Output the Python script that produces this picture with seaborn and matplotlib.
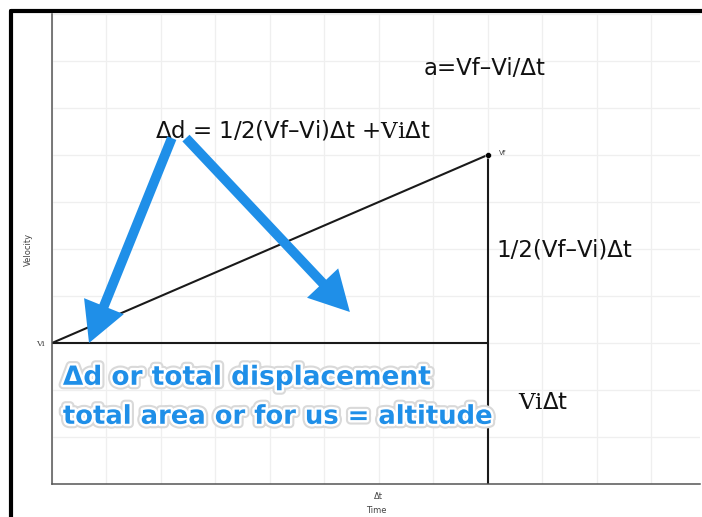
import numpy as np
import pandas as pd
import matplotlib
matplotlib.use("Agg")
import matplotlib.pyplot as plt
import matplotlib.patheffects as pe
from matplotlib.lines import Line2D
import seaborn as sns

# velocity-time graph for constant acceleration
time_ticks = list(range(0, 12))
vel_ticks = list(range(0, 11))
t_start, t_end = 0, 8
v_i, v_f = 3, 7

slope_t = [t_start, t_end]
slope_v = [v_i, v_f]
base_t = [t_start, t_end]
base_v = [v_i, v_i]
side_t = [t_end, t_end]
side_v = [0, v_f]

xtick_labels = {6: "\u0394t"}
ytick_labels = {3: "Vi"}

sns.set_theme(style="whitegrid")
plt.rcParams["font.family"] = ["DejaVu Sans"]
plt.rcParams["mathtext.fontset"] = "custom"
plt.rcParams["mathtext.rm"] = "DejaVu Serif"

fig = plt.figure(figsize=(7.02, 5.17), dpi=100)
ax = fig.add_axes([52 / 702, 33 / 517, 648 / 702, 470 / 517])

lines = pd.DataFrame({
    "t": slope_t + base_t + side_t,
    "v": slope_v + base_v + side_v,
    "seg": ["slope"] * 2 + ["base"] * 2 + ["side"] * 2,
})
sns.lineplot(data=lines, x="t", y="v", units="seg", estimator=None, sort=False,
             color="#1a1a1a", linewidth=1.5, ax=ax)
sns.scatterplot(x=[t_end], y=[v_f], color="black", s=18, ax=ax, zorder=5)

ax.set_xlim(0, 11.9)
ax.set_ylim(0, 10)
ax.set_xticks(time_ticks)
ax.set_xticklabels([xtick_labels.get(t, "") for t in time_ticks], fontsize=6, color="#444")
ax.set_yticks(vel_ticks)
ax.set_yticklabels([ytick_labels.get(v, "") for v in vel_ticks], fontsize=6,
                   color="#444", family="DejaVu Serif")
ax.tick_params(axis="both", direction="inout", length=5, width=1, color="#444", pad=3)
ax.grid(True, color="#efefef", linewidth=0.9)
ax.set_xlabel("Time", fontsize=6, color="#444", labelpad=4)
ax.set_ylabel("Velocity", fontsize=6, color="#444", labelpad=2)
for side in ["top", "right"]:
    ax.spines[side].set_visible(False)
for side in ["left", "bottom"]:
    ax.spines[side].set_color("#555")
    ax.spines[side].set_linewidth(1.1)

ax.text(t_end + 0.2, v_f + 0.05, "Vf", fontsize=5, color="#444", va="center")

# formulas
fs = 16.5
ax.text(7.94, 8.85, "a=Vf\u2013Vi/\u0394t", fontsize=fs, ha="center", va="center", color="#111")
ax.text(1.9, 7.53, "\u0394d = 1/2(Vf\u2013Vi)\u0394t +$\\mathrm{Vi}$\u0394t", fontsize=fs,
        ha="left", va="center", color="#111")
ax.text(8.17, 4.98, "1/2(Vf\u2013Vi)\u0394t", fontsize=fs, ha="left", va="center", color="#111")
ax.text(8.55, 1.74, "$\\mathrm{Vi}$\u0394t", fontsize=fs, ha="left", va="center", color="#111")

# blue annotation with arrows
blue = "#1f8fe8"
arrow_starts = [(2.2, 7.36), (2.46, 7.36)]
arrow_tips = [(0.68, 3.0), (5.47, 3.66)]
for start, tip in zip(arrow_starts, arrow_tips):
    ax.annotate("", xy=tip, xytext=start,
                arrowprops=dict(arrowstyle="simple,head_length=1.3,head_width=1.4,tail_width=0.32",
                                color=blue, lw=0, shrinkA=0, shrinkB=0, mutation_scale=22))

halo = [pe.withStroke(linewidth=6.5, foreground="#d9d9d9"),
        pe.withStroke(linewidth=3.5, foreground="white")]
ax.text(0.2, 2.26, "\u0394d or total displacement", fontsize=19, fontweight="bold",
        color=blue, ha="left", va="center", path_effects=halo)
ax.text(0.2, 1.43, "total area or for us = altitude", fontsize=18.6, fontweight="bold",
        color=blue, ha="left", va="center", path_effects=halo)

# outer frame of the screenshot
fig.add_artist(Line2D([11 / 702, 1], [1 - 11 / 517, 1 - 11 / 517], color="black", linewidth=3))
fig.add_artist(Line2D([11 / 702, 11 / 702], [0, 1 - 11 / 517], color="black", linewidth=3))

fig.savefig("out.png", dpi=100)
